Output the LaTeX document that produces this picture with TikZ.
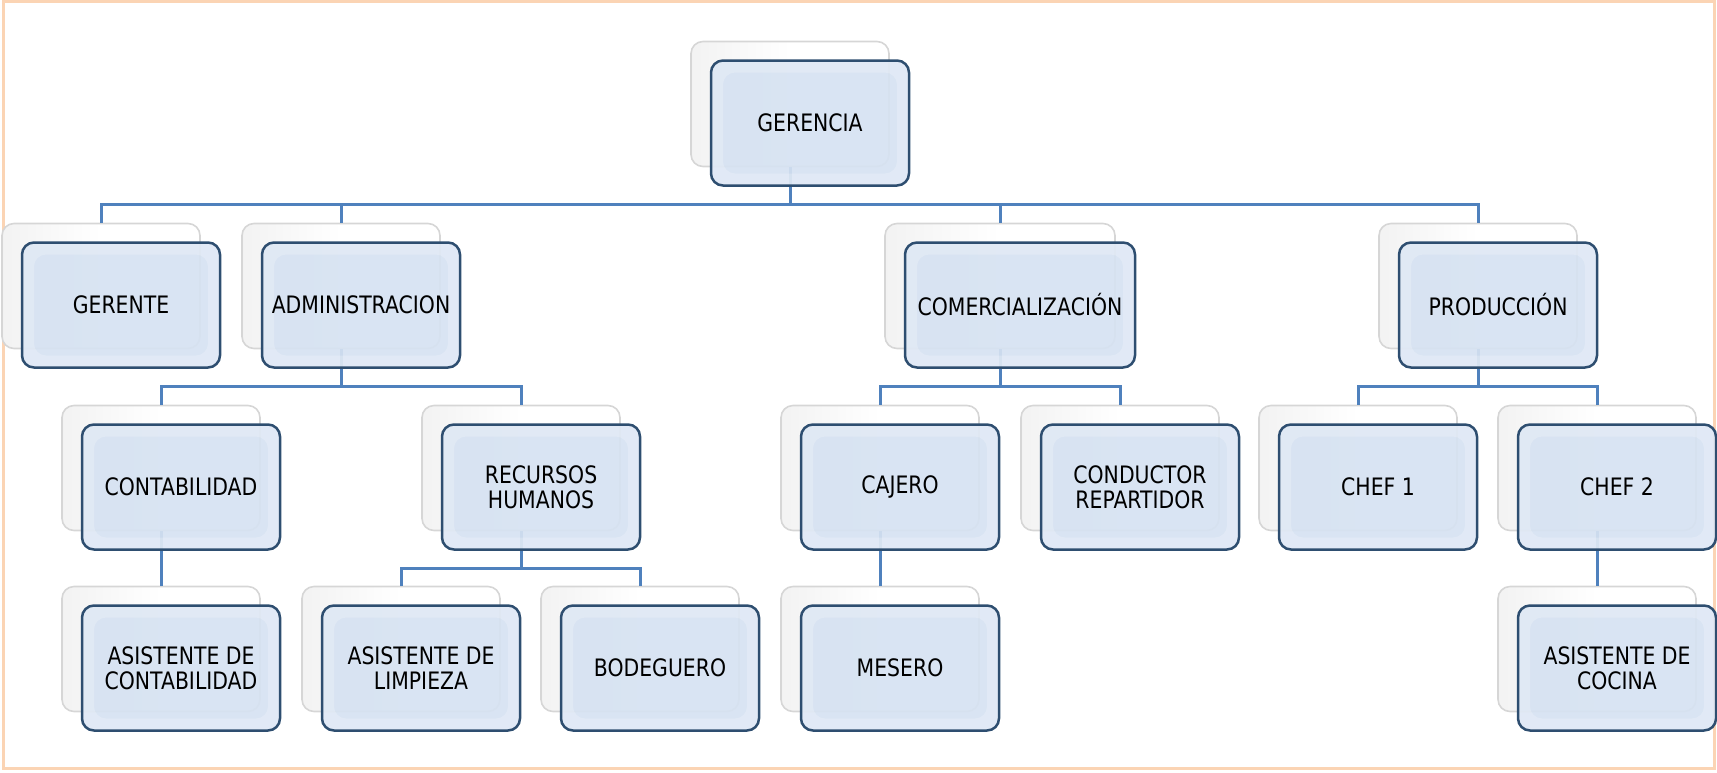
\documentclass[tikz,border=0pt]{standalone}
\usepackage{fontspec}
\setmainfont{DejaVu Sans}[FakeStretch=0.85]
\usepackage{tikz}
\usetikzlibrary{arrows.meta, positioning, calc}

\definecolor{boxblue}{RGB}{214,226,242}
\definecolor{boxedge}{RGB}{46,78,112}
\definecolor{linkblue}{RGB}{79,129,189}
\definecolor{framepeach}{RGB}{251,212,180}

\begin{document}
\begin{tikzpicture}[x=0.5pt, y=-0.5pt,
      % Front card with a light bevel band
      card/.style={rounded corners=6pt, draw=boxedge, line width=1.25pt,
      fill=boxblue, fill opacity=0.92, text opacity=1, minimum width=99pt,
      minimum height=62.5pt, inner sep=2pt, align=center,
      font=\fontsize{12pt}{12.5pt}\selectfont,
      path picture={\fill[white, opacity=0.22, even odd rule]
        (path picture bounding box.south west) rectangle
        (path picture bounding box.north east)
        ([shift={(6pt,6pt)}]path picture bounding box.south west) rectangle
        ([shift={(-6pt,-6pt)}]path picture bounding box.north east);}},
      widecard/.style={card, minimum width=115pt},
      % Card behind the front one
      shadowcard/.style={rounded corners=6pt, draw=black!16, line width=0.8pt,
      left color=black!5, right color=white, middle color=white,
      minimum width=99pt, minimum height=62.5pt},
      wideshadow/.style={shadowcard, minimum width=115pt},
      link/.style={draw=linkblue, line width=1.5pt} ]

    \useasboundingbox (0,0) rectangle (1717,772);
    % Outer frame
    \draw[framepeach, line width=1.5pt] (3,1.5) rectangle (1714.5,768);

    % Back cards
    \node[shadowcard] (gerS) at (790,104) {};
    \node[shadowcard] (gteS) at (101,286) {}; \node[shadowcard] (admS) at
    (341,286) {}; \node[wideshadow] (comS) at (1000,286) {};
    \node[shadowcard] (proS) at (1478,286) {};
    \node[shadowcard] (conS) at (161,468) {}; \node[shadowcard] (rhS) at
    (521,468) {}; \node[shadowcard] (cajS) at (880,468) {};
    \node[shadowcard] (repS) at (1120,468) {}; \node[shadowcard] (ch1S) at
    (1358,468) {}; \node[shadowcard] (ch2S) at (1597,468) {};
    \node[shadowcard] (acoS) at (161,649) {}; \node[shadowcard] (limS) at
    (401,649) {}; \node[shadowcard] (bodS) at (640,649) {};
    \node[shadowcard] (mesS) at (880,649) {}; \node[shadowcard] (cocS) at
    (1597,649) {};

    % Links first level
    \draw[link] (gerS.south) -- ++(0,37) -| (gteS.north);
    \draw[link] (gerS.south) -- ++(0,37) -| (admS.north);
    \draw[link] (gerS.south) -- ++(0,37) -| (comS.north);
    \draw[link] (gerS.south) -- ++(0,37) -| (proS.north);

    % Links second level
    \draw[link] (admS.south) -- ++(0,37) -| (conS.north);
    \draw[link] (admS.south) -- ++(0,37) -| (rhS.north);
    \draw[link] (comS.south) -- ++(0,37) -| (cajS.north);
    \draw[link] (comS.south) -- ++(0,37) -| (repS.north);
    \draw[link] (proS.south) -- ++(0,37) -| (ch1S.north);
    \draw[link] (proS.south) -- ++(0,37) -| (ch2S.north);

    % Links third level
    \draw[link] (conS.south) -- (acoS.north);
    \draw[link] (rhS.south) -- ++(0,37) -| (limS.north);
    \draw[link] (rhS.south) -- ++(0,37) -| (bodS.north);
    \draw[link] (cajS.south) -- (mesS.north);
    \draw[link] (ch2S.south) -- (cocS.north);

    % Front cards
    \node[card] (ger) at (810,123) {GERENCIA};
    \node[card] (gte) at (121,305) {GERENTE}; \node[card] (adm) at (361,305)
    {ADMINISTRACION}; \node[widecard] (com) at (1020,305)
    {COMERCIALIZACIÓN}; \node[card] (pro) at (1498,305) {PRODUCCIÓN};
    \node[card] (con) at (181,487) {CONTABILIDAD}; \node[card] (rh) at
    (541,487) {RECURSOS\\HUMANOS}; \node[card] (caj) at (900,487) {CAJERO};
    \node[card] (rep) at (1140,487) {CONDUCTOR\\REPARTIDOR}; \node[card]
    (ch1) at (1378,487) {CHEF 1}; \node[card] (ch2) at (1617,487) {CHEF 2};
    \node[card] (aco) at (181,668) {ASISTENTE DE\\CONTABILIDAD}; \node[card]
    (lim) at (421,668) {ASISTENTE DE\\LIMPIEZA}; \node[card] (bod) at
    (660,668) {BODEGUERO}; \node[card] (mes) at (900,668) {MESERO};
    \node[card] (coc) at (1617,668) {ASISTENTE DE\\COCINA};

    \end{tikzpicture}
\end{document}
